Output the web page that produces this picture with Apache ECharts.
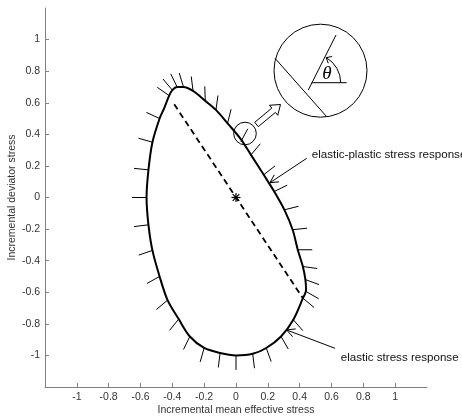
<!DOCTYPE html>
<html>
<head>
<meta charset="utf-8">
<script src="https://cdn.jsdelivr.net/npm/echarts@6/dist/echarts.min.js"></script>
<style>html,body{margin:0;padding:0;background:#fff}#c{width:462px;height:416px}</style>
</head>
<body>
<div id="c"></div>
<script>
// ---- data ----
const curveX = [0.42, 0.44, 0.436, 0.42, 0.388, 0.356, 0.304, 0.24, 0.174, 0.094, 0.03, -0.053, -0.126, -0.193, -0.27, -0.33, -0.37, -0.40, -0.42, -0.451, -0.48, -0.525, -0.55, -0.562, -0.55, -0.525, -0.48, -0.43, -0.36, -0.29, -0.2, -0.10, 0, 0.105, 0.19, 0.283, 0.36, 0.42];
const curveY = [-0.637, -0.585, -0.52, -0.437, -0.331, -0.204, -0.078, 0.038, 0.144, 0.27, 0.37, 0.47, 0.555, 0.612, 0.675, 0.70, 0.70, 0.68, 0.645, 0.566, 0.50, 0.35, 0.175, 0, -0.173, -0.335, -0.5, -0.65, -0.77, -0.88, -0.953, -0.985, -1.0, -0.99, -0.953, -0.88, -0.774, -0.637];
const dashX = [-0.388, 0.42];
const dashY = [0.59, -0.637];
const hatchX = [0.388, 0.356, 0.304, 0.24, 0.174, 0.094, 0.031, -0.053, -0.126, -0.193, -0.27, -0.33, -0.37, -0.40, -0.42, -0.48, -0.525, -0.55, -0.562, -0.55, -0.525, -0.48, -0.43, -0.36, -0.29, -0.2, -0.10, 0, 0.105, 0.19, 0.283, 0.36, 0.42, 0.44, 0.436, 0.42];
const hatchY = [-0.331, -0.204, -0.078, 0.038, 0.144, 0.27, 0.354, 0.47, 0.555, 0.612, 0.675, 0.70, 0.70, 0.68, 0.645, 0.50, 0.35, 0.175, 0.0, -0.173, -0.335, -0.5, -0.65, -0.77, -0.88, -0.953, -0.985, -1.0, -0.99, -0.953, -0.88, -0.774, -0.637, -0.595, -0.52, -0.437];
const hatchAngle = [0, 6, 14, 26, 38, 50, 62, 76, 82, 92, 97, 107, 116, 130, 145, 155, 164, 174, 180, 187, 199, 209, 220, 231, 244, 254, 263, 270, 277, 290, 300, 311, 320, 330, 340, 352];
const originPoint = [0, 0];
const axisMin = -1.2, axisMax = 1.2, axisStep = 0.2;

const curveData = curveX.map((x, i) => [x, curveY[i]]);
const dashData = dashX.map((x, i) => [x, dashY[i]]);
const hatchData = hatchX.map((x, i) => [x, hatchY[i], hatchAngle[i]]);

const FONT = '"Liberation Sans", Arial, sans-serif';
const chart = echarts.init(document.getElementById('c'), null, {renderer: 'canvas'});

function axisCommon() {
  return {
    type: 'value', min: axisMin, max: axisMax, interval: axisStep,
    axisLine: {show: true, onZero: false, lineStyle: {color: '#808080', width: 1}},
    axisTick: {show: true, inside: true, length: 4, lineStyle: {color: '#808080'}},
    axisLabel: {showMinLabel: false, showMaxLabel: false, color: '#333', fontSize: 10.5, fontFamily: FONT, margin: 5},
    splitLine: {show: false},
    nameLocation: 'middle',
    nameMoveOverlap: false,
    nameTextStyle: {color: '#333', fontSize: 10.5, fontFamily: FONT}
  };
}

function arrowHead(tip, from, len, ang) {
  const dx = from[0] - tip[0], dy = from[1] - tip[1];
  const d = Math.hypot(dx, dy), ux = dx / d, uy = dy / d;
  const a = ang * Math.PI / 180;
  const r1 = [ux * Math.cos(a) - uy * Math.sin(a), ux * Math.sin(a) + uy * Math.cos(a)];
  const r2 = [ux * Math.cos(-a) - uy * Math.sin(-a), ux * Math.sin(-a) + uy * Math.cos(-a)];
  return [[tip[0] + r1[0] * len, tip[1] + r1[1] * len], tip, [tip[0] + r2[0] * len, tip[1] + r2[1] * len]];
}

function blockArrow(tail, tip) {
  const dx = tip[0] - tail[0], dy = tip[1] - tail[1];
  const d = Math.hypot(dx, dy), ux = dx / d, uy = dy / d;
  const nx = -uy, ny = ux;
  const hl = 9, hw = 6.5, sw = 2.8;
  const bx = tip[0] - ux * hl, by = tip[1] - uy * hl;
  return [
    [tail[0] + nx * sw, tail[1] + ny * sw], [bx + nx * sw, by + ny * sw], [bx + nx * hw, by + ny * hw],
    tip, [bx - nx * hw, by - ny * hw], [bx - nx * sw, by - ny * sw], [tail[0] - nx * sw, tail[1] - ny * sw]
  ];
}

const stroke = {stroke: '#000', lineWidth: 1, fill: null};
const arcC = [311.7, 82.7], arcR = 29;
const arcTip = [arcC[0] + arcR * Math.cos(Math.PI / 3), arcC[1] - arcR * Math.sin(Math.PI / 3)];
const arcBack = [arcTip[0] + 0.866 * 5, arcTip[1] + 0.5 * 5];

const graphics = [
  {type: 'circle', shape: {cx: 320.5, cy: 70.7, r: 46.5}, style: stroke, z: 100},
  {type: 'line', shape: {x1: 275, y1: 58.3, x2: 326.7, y2: 116.7}, style: stroke, z: 100},
  {type: 'line', shape: {x1: 308.3, y1: 90, x2: 336, y2: 35}, style: stroke, z: 100},
  {type: 'line', shape: {x1: 311.7, y1: 82.7, x2: 346.7, y2: 82.7}, style: stroke, z: 100},
  {type: 'arc', shape: {cx: arcC[0], cy: arcC[1], r: arcR, startAngle: -Math.PI / 3, endAngle: 0, clockwise: true}, style: stroke, z: 100},
  {type: 'polyline', shape: {points: arrowHead(arcTip, arcBack, 6, 40)}, style: stroke, z: 100},
  {type: 'text', x: 327, y: 74, style: {text: 'θ', fontSize: 19, fontStyle: 'italic', fontFamily: '"Liberation Serif", "DejaVu Serif", serif', fill: '#000', align: 'center', verticalAlign: 'middle'}, z: 100},
  {type: 'circle', shape: {cx: 245, cy: 133.5, r: 11.3}, style: stroke, z: 100},
  {type: 'polygon', shape: {points: blockArrow([256.5, 124.5], [280.5, 104.5])}, style: {stroke: '#000', lineWidth: 1, fill: '#fff'}, z: 100},
  {type: 'line', shape: {x1: 306.7, y1: 158.3, x2: 270, y2: 182.7}, style: stroke, z: 100},
  {type: 'polyline', shape: {points: arrowHead([270, 182.7], [306.7, 158.3], 9, 28)}, style: stroke, z: 100},
  {type: 'text', x: 311.7, y: 155, style: {text: 'elastic-plastic stress response', fontSize: 11.6, fontFamily: FONT, fill: '#111', align: 'left', verticalAlign: 'middle'}, z: 100},
  {type: 'line', shape: {x1: 335, y1: 348.3, x2: 286.7, y2: 330}, style: stroke, z: 100},
  {type: 'polyline', shape: {points: arrowHead([286.7, 330], [335, 348.3], 9, 28)}, style: stroke, z: 100},
  {type: 'text', x: 340.7, y: 357.3, style: {text: 'elastic stress response', fontSize: 11.6, fontFamily: FONT, fill: '#111', align: 'left', verticalAlign: 'middle'}, z: 100}
];

const option = {
  animation: false,
  backgroundColor: '#fff',
  grid: {left: 45, right: 35, top: 8, bottom: 29, containLabel: false, outerBoundsMode: 'none'},
  xAxis: Object.assign(axisCommon(), {name: 'Incremental mean effective stress', nameGap: 18}),
  yAxis: Object.assign(axisCommon(), {name: 'Incremental deviator stress', nameGap: 27, nameRotate: 90}),
  series: [
    {type: 'line', data: curveData, smooth: 0.3, showSymbol: false, lineStyle: {color: '#000', width: 2}, z: 5},
    {type: 'line', data: dashData, showSymbol: false, lineStyle: {color: '#000', width: 1.8, type: [6, 4]}, z: 4},
    {type: 'custom', data: hatchData, z: 3,
      renderItem: function (params, api) {
        const p = api.coord([api.value(0), api.value(1)]);
        const a = api.value(2) * Math.PI / 180, L = 14.5;
        return {type: 'line', shape: {x1: p[0], y1: p[1], x2: p[0] + L * Math.cos(a), y2: p[1] - L * Math.sin(a)}, style: {stroke: '#000', lineWidth: 1}};
      }},
    {type: 'custom', data: [originPoint], z: 6,
      renderItem: function (params, api) {
        const p = api.coord([api.value(0), api.value(1)]);
        const s = 4.5, t = 3.3;
        const st = {stroke: '#000', lineWidth: 1.2};
        return {type: 'group', children: [
          {type: 'line', shape: {x1: p[0] - s, y1: p[1], x2: p[0] + s, y2: p[1]}, style: st},
          {type: 'line', shape: {x1: p[0], y1: p[1] - s, x2: p[0], y2: p[1] + s}, style: st},
          {type: 'line', shape: {x1: p[0] - t, y1: p[1] - t, x2: p[0] + t, y2: p[1] + t}, style: st},
          {type: 'line', shape: {x1: p[0] - t, y1: p[1] + t, x2: p[0] + t, y2: p[1] - t}, style: st}
        ]};
      }}
  ],
  graphic: graphics
};
chart.setOption(option);
</script>
</body>
</html>
